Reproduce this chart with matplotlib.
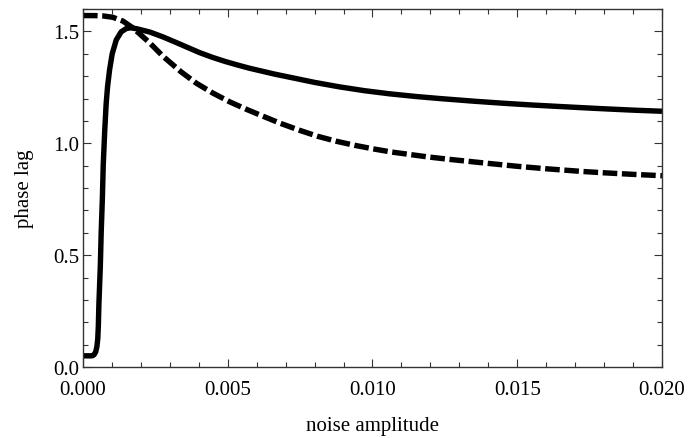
import matplotlib
matplotlib.use("Agg")
import matplotlib.pyplot as plt
from matplotlib.ticker import MultipleLocator, FormatStrFormatter

# noise amplitude vs phase lag, two responses
solid_x = [0.0, 0.00028, 0.00034, 0.00039, 0.00044, 0.00048, 0.00051, 0.00053,
           0.00055, 0.00060, 0.00063, 0.00067, 0.00070, 0.00075, 0.00080,
           0.00085, 0.00092, 0.00101, 0.00115, 0.00132, 0.00150, 0.00165,
           0.00185, 0.00231, 0.00275, 0.00317, 0.00360, 0.00403, 0.00447,
           0.0049, 0.00533, 0.00576, 0.00662, 0.00748, 0.0080, 0.00886,
           0.00972, 0.01059, 0.0115, 0.01231, 0.0135, 0.0145, 0.0155, 0.0165,
           0.01724, 0.0180, 0.0190, 0.0200]
solid_y = [0.05, 0.05, 0.051, 0.056, 0.068, 0.09, 0.125, 0.18,
           0.28, 0.454, 0.604, 0.753, 0.903, 1.052, 1.175,
           1.254, 1.329, 1.400, 1.462, 1.498, 1.513, 1.516,
           1.512, 1.497, 1.476, 1.453, 1.429, 1.405, 1.384,
           1.366, 1.350, 1.335, 1.309, 1.286, 1.272, 1.252,
           1.235, 1.221, 1.209, 1.200, 1.188, 1.179, 1.171, 1.164,
           1.159, 1.154, 1.148, 1.143]

dashed_x = [0.0, 0.0004, 0.0007, 0.00103, 0.00138, 0.00172, 0.0020, 0.00231,
            0.00277, 0.0034, 0.00392, 0.00449, 0.00507, 0.00564, 0.00616,
            0.0068, 0.00748, 0.00811, 0.00875, 0.00938, 0.01002, 0.01065,
            0.01128, 0.01191, 0.01266, 0.0140, 0.0150, 0.0160, 0.01724,
            0.0180, 0.0190, 0.0200]
dashed_y = [1.5708, 1.5705, 1.569, 1.563, 1.546, 1.516, 1.484, 1.448,
            1.388, 1.318, 1.268, 1.224, 1.185, 1.152, 1.124,
            1.090, 1.058, 1.031, 1.009, 0.991, 0.975, 0.961,
            0.950, 0.939, 0.928, 0.910, 0.897, 0.886, 0.874,
            0.868, 0.861, 0.855]

x_ticks = [0.000, 0.005, 0.010, 0.015, 0.020]
y_ticks = [0.0, 0.5, 1.0, 1.5]

plt.rcParams["font.family"] = ["Liberation Serif", "DejaVu Serif"]

fig = plt.figure(figsize=(6.88, 4.39), dpi=100)
ax = fig.add_axes([0.1206, 0.1617, 0.9622 - 0.1206, 0.9772 - 0.1617])

ax.plot(solid_x, solid_y, color="black", lw=3.9, solid_joinstyle="round",
        solid_capstyle="butt")
ax.plot(dashed_x, dashed_y, color="black", lw=3.9, dashes=(2.7, 0.85),
        dash_capstyle="butt", dash_joinstyle="round")

ax.set_xlim(0, 0.020)
ax.set_ylim(0, 1.6)
ax.set_xticks(x_ticks)
ax.set_yticks(y_ticks)
ax.xaxis.set_major_formatter(FormatStrFormatter("%.3f"))
ax.yaxis.set_major_formatter(FormatStrFormatter("%.1f"))
ax.xaxis.set_minor_locator(MultipleLocator(0.001))
ax.yaxis.set_minor_locator(MultipleLocator(0.1))

frame_color = "#333333"
for s in ax.spines.values():
    s.set_color(frame_color)
    s.set_linewidth(1.0)

ax.tick_params(which="both", direction="in", top=True, right=True,
               color=frame_color, width=0.8, labelsize=15)
ax.tick_params(axis="x", which="both", pad=9.5)
ax.tick_params(axis="y", which="both", pad=2.5)
ax.tick_params(which="major", length=6)
ax.tick_params(which="minor", length=3.5)

ax.set_xlabel("noise amplitude", fontsize=15, labelpad=12)
ax.set_ylabel("phase lag", fontsize=15, labelpad=14)

fig.savefig("out.png", dpi=100)
